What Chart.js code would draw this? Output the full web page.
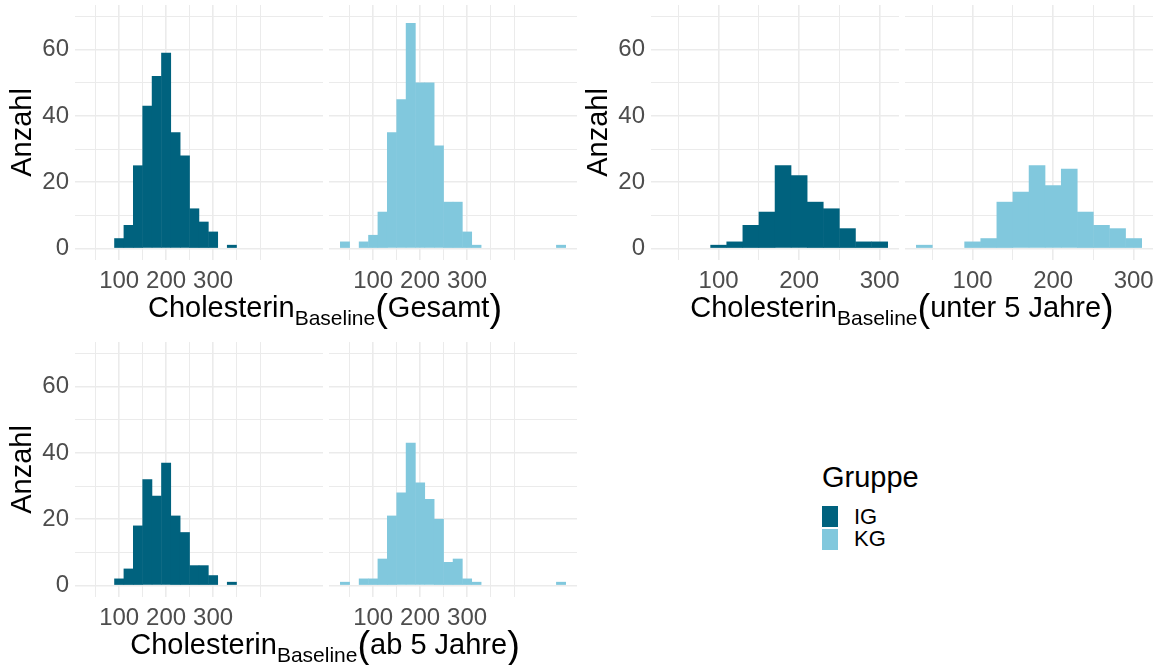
<!DOCTYPE html>
<html>
<head>
<meta charset="utf-8">
<script src="https://cdn.jsdelivr.net/npm/chart.js@4/dist/chart.umd.min.js"></script>
<style>
  body { margin: 0; background: #fff; width: 1161px; height: 665px; position: relative; overflow: hidden;
         font-family: "Liberation Sans", Arial, sans-serif; }
  canvas { position: absolute; }
  .xt { position: absolute; font-size: 29px; line-height: 29px; white-space: nowrap; color: #000;
        transform: translateX(-50%); }
  .xt sub { font-size: 21px; line-height: 0; vertical-align: -8px; }
  .xt .p { font-size: 38px; line-height: 0; vertical-align: -4px; }
  .lg { position: absolute; line-height: 1; color: #000; white-space: nowrap; }
  .key { position: absolute; width: 16px; height: 21px; }
</style>
</head>
<body>
<canvas id="gesamtIG" width="323" height="295" style="left:0px;top:5px"></canvas>
<canvas id="gesamtKG" width="248" height="295" style="left:329px;top:5px"></canvas>
<canvas id="unter5IG" width="323" height="295" style="left:576px;top:5px"></canvas>
<canvas id="unter5KG" width="248" height="295" style="left:905px;top:5px"></canvas>
<canvas id="ab5IG" width="323" height="295" style="left:0px;top:342px"></canvas>
<canvas id="ab5KG" width="248" height="295" style="left:329px;top:342px"></canvas>

<div class="xt" style="left:325px;top:293px">Cholesterin<sub>Baseline</sub><span class="p">(</span>Gesamt<span class="p">)</span></div>
<div class="xt" style="left:902px;top:293px">Cholesterin<sub>Baseline</sub><span class="p">(</span>unter 5 Jahre<span class="p">)</span></div>
<div class="xt" style="left:325px;top:630px">Cholesterin<sub>Baseline</sub><span class="p">(</span>ab 5 Jahre<span class="p">)</span></div>

<div id="legend"></div>

<script>
// histogram bins (centres, binwidth 20)
const binsWide = [40, 60, 80, 100, 120, 140, 160, 180, 200, 220, 240, 260, 280, 300, 320, 340, 360, 380, 400, 420, 440, 460, 480, 500];
const binsUnter5 = [40, 60, 80, 100, 120, 140, 160, 180, 200, 220, 240, 260, 280, 300];

// counts per bin
const igGesamt = [0, 0, 0, 3, 7, 25, 43, 52, 59, 35, 28, 12, 8, 5, 0, 1, 0, 0, 0, 0, 0, 0, 0, 0];
const kgGesamt = [2, 0, 2, 4, 11, 35, 45, 68, 50, 50, 31, 14, 14, 5, 1, 0, 0, 0, 0, 0, 0, 0, 0, 1];
const igUnter5 = [0, 0, 0, 1, 2, 7, 11, 25, 22, 14, 12, 6, 2, 2];
const kgUnter5 = [1, 0, 0, 2, 3, 14, 17, 25, 19, 24, 11, 7, 6, 3];
const igAb5 = [0, 0, 0, 2, 5, 18, 32, 27, 37, 21, 16, 6, 6, 3, 0, 1, 0, 0, 0, 0, 0, 0, 0, 0];
const kgAb5 = [1, 0, 2, 2, 8, 21, 28, 43, 31, 26, 20, 7, 8, 2, 1, 0, 0, 0, 0, 0, 0, 0, 0, 1];

// axes
const xTickLabels = [100, 200, 300];
const xGridLines = [50, 100, 150, 200, 250, 300, 350, 400];
const yTickLabels = [0, 20, 40, 60];
const yGridLines = [0, 10, 20, 30, 40, 50, 60, 70];

const groups = ["IG", "KG"];
const colors = { IG: "#00627e", KG: "#81c8dd" };

Chart.defaults.font.family = '"Liberation Sans", Arial, sans-serif';

function facet(id, bins, counts, group, xMin, xMax, showY) {
  new Chart(document.getElementById(id), {
    type: "bar",
    data: {
      datasets: [
        {
          label: group,
          data: bins.map((b, i) => ({ x: b, y: counts[i] })),
          backgroundColor: colors[group],
          borderWidth: 0,
          // slight overlap hides seams, empty bins stay invisible
          inflateAmount: (c) => (c.raw && c.raw.y > 0 ? 0.25 : 0),
          barPercentage: 1,
          categoryPercentage: 1,
          base: 0,
        },
      ],
    },
    options: {
      responsive: false,
      animation: false,
      devicePixelRatio: 1,
      layout: { padding: 0 },
      plugins: { legend: { display: false }, tooltip: { enabled: false } },
      scales: {
        x: {
          type: "linear",
          min: xMin,
          max: xMax,
          offset: false,
          afterBuildTicks: (s) => {
            s.ticks = xGridLines.filter((v) => v > xMin && v < xMax).map((v) => ({ value: v }));
          },
          afterFit: (s) => {
            s.height = 40;
            s.paddingLeft = 0;
            s.paddingRight = 0;
          },
          ticks: {
            autoSkip: false,
            maxRotation: 0,
            padding: 7,
            color: "#4d4d4d",
            font: { size: 24 },
            callback: (v) => (xTickLabels.includes(v) ? String(v) : ""),
          },
          grid: {
            offset: false,
            drawTicks: false,
            color: "#ebebeb",
            lineWidth: (c) => (xTickLabels.includes(c.tick.value) ? 1.6 : 1),
          },
          border: { display: false },
        },
        y: {
          min: -3.5,
          max: 73.5,
          afterBuildTicks: (s) => {
            s.ticks = yGridLines.map((v) => ({ value: v }));
          },
          afterFit: (s) => {
            s.width = showY ? 75 : 0;
            s.paddingTop = 0;
            s.paddingBottom = 0;
          },
          ticks: {
            display: showY,
            padding: 6,
            color: "#4d4d4d",
            font: { size: 24 },
            callback: (v) => (yTickLabels.includes(v) ? String(v) : ""),
          },
          title: {
            display: showY,
            text: "Anzahl",
            color: "#000",
            font: { size: 29 },
            padding: { top: 6, bottom: 0 },
          },
          grid: {
            drawTicks: false,
            color: "#ebebeb",
            lineWidth: (c) => (yTickLabels.includes(c.tick.value) ? 1.6 : 1),
          },
          border: { display: false },
        },
      },
    },
  });
}

facet("gesamtIG", binsWide, igGesamt, "IG", 6, 534, true);
facet("gesamtKG", binsWide, kgGesamt, "KG", 6, 534, false);
facet("unter5IG", binsUnter5, igUnter5, "IG", 16, 324, true);
facet("unter5KG", binsUnter5, kgUnter5, "KG", 16, 324, false);
facet("ab5IG", binsWide, igAb5, "IG", 6, 534, true);
facet("ab5KG", binsWide, kgAb5, "KG", 6, 534, false);

// legend
const legend = document.getElementById("legend");
legend.innerHTML =
  '<div class="lg" style="left:822px;top:463px;font-size:29px">Gruppe</div>' +
  groups
    .map(
      (g, i) =>
        `<div class="key" style="left:822px;top:${506 + i * 23}px;background:${colors[g]}"></div>` +
        `<div class="lg" style="left:854px;top:${506 + i * 22}px;font-size:22px">${g}</div>`
    )
    .join("");
</script>
</body>
</html>
